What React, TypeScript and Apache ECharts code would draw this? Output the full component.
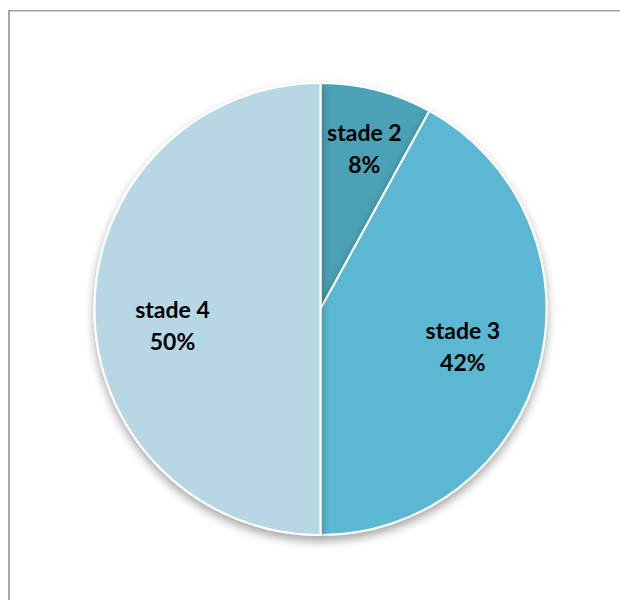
import React, { useEffect, useRef } from "react";
import * as echarts from "echarts";

const categories = ["stade 2", "stade 3", "stade 4"];
const values = [8, 42, 50];
const colors = ["#4BA1B5", "#5BB8D2", "#B6D7E3"];
// label nudges (px) from the default inside position
const labelShift = [
  [15, -49],
  [30, 8],
  [-32, 16],
];

export default function App() {
  const ref = useRef<HTMLDivElement>(null);
  useEffect(() => {
    if (!ref.current) return;
    const chart = echarts.init(ref.current, null, { renderer: "svg" });
    chart.setOption({
      animation: false,
      backgroundColor: "#ffffff",
      graphic: [
        { type: "rect", shape: { x: 8, y: 10, width: 612, height: 1.5 }, style: { fill: "#a3a3a3" } },
        { type: "rect", shape: { x: 8, y: 10, width: 2, height: 590 }, style: { fill: "#a8a8a8" } },
      ],
      series: [
        {
          type: "pie",
          center: [320.5, 309],
          radius: [0, 226],
          startAngle: 90,
          clockwise: true,
          avoidLabelOverlap: false,
          itemStyle: {
            borderColor: "#ffffff",
            borderWidth: 2,
            shadowBlur: 10,
            shadowOffsetY: 5,
            shadowColor: "rgba(0,0,0,0.35)",
          },
          label: {
            show: true,
            position: "inside",
            formatter: (p: any) => `${p.name}\n${p.value}%`,
            fontFamily: "Lato, 'Open Sans', sans-serif",
            fontWeight: "bold",
            fontSize: 23,
            lineHeight: 32,
            color: "#000000",
          },
          labelLine: { show: false },
          labelLayout: (p: any) => ({ dx: labelShift[p.dataIndex][0], dy: labelShift[p.dataIndex][1] }),
          emphasis: { disabled: true },
          data: categories.map((c, i) => ({ name: c, value: values[i], itemStyle: { color: colors[i] } })),
        },
      ],
    });
    return () => chart.dispose();
  }, []);
  return <div ref={ref} style={{ position: "absolute", left: 0, top: 0, width: 620, height: 600 }} />;
}
